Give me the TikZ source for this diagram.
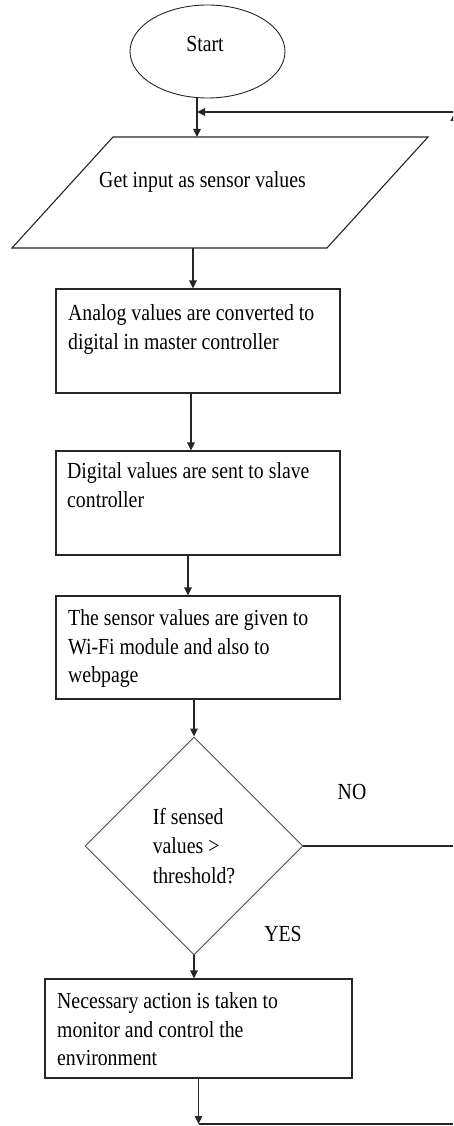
\documentclass[tikz,border=0pt]{standalone}
\usepackage{fontspec}
\setmainfont{Liberation Serif}[FakeStretch=0.86]
\usetikzlibrary{shapes.geometric,arrows.meta}
\begin{document}
\begin{tikzpicture}[x=1pt,y=-1pt,
  line/.style={line width=1.1pt, draw=black!85},
  arr/.style={line, -{Triangle[length=8pt,width=7.5pt]}},
  box/.style={draw=black!85, line width=1.1pt, minimum width=284pt, minimum height=104pt, inner sep=0pt},
  txt/.style={font=\fontsize{23}{28.5}\selectfont, align=left, inner sep=0pt},
  dec/.style={draw=black!70, line width=0.9pt, diamond, aspect=1, minimum width=218pt, minimum height=218pt, inner sep=0pt, font=\fontsize{23}{29.5}\selectfont, align=left}
]
\useasboundingbox (0,0) rectangle (453,1126);
\clip (0,0) rectangle (453,1126);

% start
\node[draw=black!85, line width=0.9pt, ellipse, minimum width=155pt, minimum height=93pt, inner sep=0pt] (start) at (207.5,51.5) {};
\node[txt] (starttxt) at (205,44) {Start};

% input parallelogram
\coordinate (p1) at (113,137);
\coordinate (p2) at (428,137);
\coordinate (p3) at (327,248);
\coordinate (p4) at (12,248);
\draw[line] (p1) -- (p2) -- (p3) -- (p4) -- cycle;
\node[txt, anchor=base] (input) at (202.5,188) {Get input as sensor values};
\coordinate (ptop) at (197,137);
\coordinate (pbot) at (193,248);
\coordinate (join) at (197,112);

% boxes
\node[box] (b1) at (198,341) {};
\node[txt, anchor=north west] (t1) at (68,304.5) {Analog values are converted to\\digital in master controller};

\node[box] (b2) at (198,503) {};
\node[txt, anchor=north west] (t2) at (67,462.5) {Digital values are sent to slave\\controller};

\node[box, minimum height=103pt] (b3) at (198,647.5) {};
\node[txt, anchor=north west] (t3) at (68,609.5) {The sensor values are given to\\Wi-Fi module and also to\\webpage};

\node[dec] (dia) at (194,846) {If sensed\\values >\\threshold?};

\node[box, minimum width=307pt, minimum height=99pt] (b4) at (198.5,1028.5) {};
\node[txt, anchor=north west] (t4) at (57,992.5) {Necessary action is taken to\\monitor and control the\\environment};

\node[txt] (no) at (352,792) {NO};
\node[txt] (yes) at (283,934) {YES};

% connectors
\draw[arr] (start.south -| join) -- (ptop);
\draw[arr] (pbot) -- (pbot |- b1.north);
\draw[arr] ([xshift=-7pt]b1.south) -- ([xshift=-7pt]b2.north);
\draw[arr] ([xshift=-10pt]b2.south) -- ([xshift=-10pt]b3.north);
\draw[arr] (dia.north |- b3.south) -- (dia.north);
\draw[arr] (dia.south) -- (dia.south |- b4.north);
\coordinate (bl) at (199,1124);
\coordinate (br) at (455,1124);
\coordinate (tr) at (455,112);
\draw[arr] (b4.south) -- (b4.south |- bl);
\draw[line] (b4.south |- bl) -- (br);
\draw[line] (dia.east) -- (dia.east -| br);
\draw[line, -{Triangle[length=9pt,width=9pt]}] (br) -- (tr);
\draw[arr] (tr) -- (join);
\end{tikzpicture}
\end{document}
